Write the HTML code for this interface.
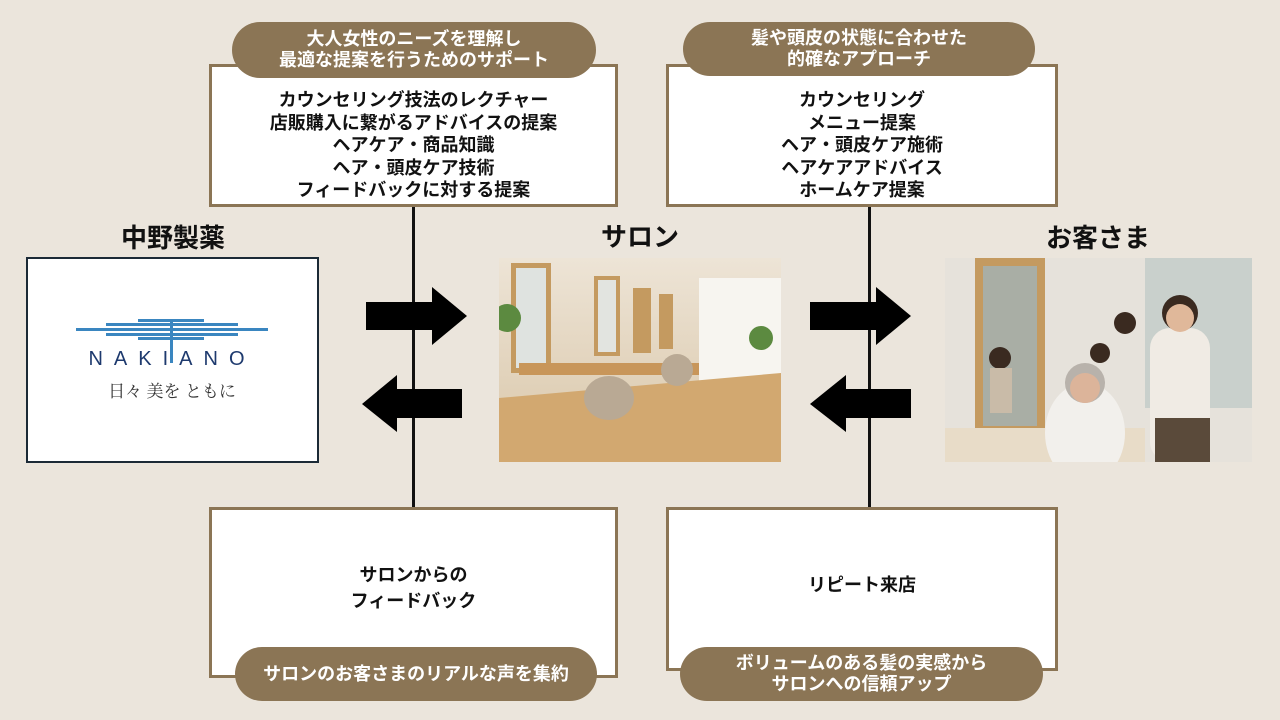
<!DOCTYPE html>
<html><head><meta charset="utf-8"><style>
*{margin:0;padding:0;box-sizing:border-box}
body{width:1280px;height:720px;background:#ebe5dc;position:relative;overflow:hidden;font-family:"Liberation Sans","Noto Sans CJK JP",sans-serif;color:#111}
.box{position:absolute;background:#fff;border:3px solid #8b7555;display:flex;flex-direction:column;align-items:center;justify-content:center;font-size:18px;font-weight:bold;line-height:22.5px;text-align:center}
.pill{position:absolute;background:#8b7555;color:#fff;border-radius:28px;font-size:18px;font-weight:bold;line-height:21px;text-align:center;display:flex;flex-direction:column;justify-content:center;align-items:center}
.vl{position:absolute;width:3px;background:#111}
.t{position:absolute;font-size:26px;font-weight:bold;transform:translateX(-50%)}
svg{position:absolute}
</style></head><body>
<div class="vl" style="left:412px;top:205px;height:303px"></div>
<div class="vl" style="left:868px;top:205px;height:303px"></div>

<div class="box" style="left:209px;top:64px;width:409px;height:143px;padding-top:20px">カウンセリング技法のレクチャー<br>店販購入に繋がるアドバイスの提案<br>ヘアケア・商品知識<br>ヘア・頭皮ケア技術<br>フィードバックに対する提案</div>
<div class="pill" style="left:232px;top:22px;width:364px;height:56px">大人女性のニーズを理解し<br>最適な提案を行うためのサポート</div>

<div class="box" style="left:666px;top:64px;width:392px;height:143px;padding-top:20px">カウンセリング<br>メニュー提案<br>ヘア・頭皮ケア施術<br>ヘアケアアドバイス<br>ホームケア提案</div>
<div class="pill" style="left:683px;top:22px;width:352px;height:54px">髪や頭皮の状態に合わせた<br>的確なアプローチ</div>

<div class="box" style="left:209px;top:507px;width:409px;height:171px;padding-bottom:10px;line-height:26px">サロンからの<br>フィードバック</div>
<div class="pill" style="left:235px;top:647px;width:362px;height:54px">サロンのお客さまのリアルな声を集約</div>

<div class="box" style="left:666px;top:507px;width:392px;height:164px;padding-bottom:8px">リピート来店</div>
<div class="pill" style="left:680px;top:647px;width:363px;height:54px">ボリュームのある髪の実感から<br>サロンへの信頼アップ</div>

<div class="t" style="left:173px;top:218px">中野製薬</div>
<div class="t" style="left:640px;top:217px">サロン</div>
<div class="t" style="left:1098px;top:218px">お客さま</div>

<svg width="1280" height="720" style="left:0;top:0">
<polygon points="366,302 432,302 432,287 467,316 432,345 432,330 366,330" fill="#000"/>
<polygon points="462,389 397,389 397,375 362,404 397,432 397,418 462,418" fill="#000"/>
<polygon points="810,302 876,302 876,287 911,316 876,345 876,330 810,330" fill="#000"/>
<polygon points="911,389 846,389 846,375 810,404 846,432 846,418 911,418" fill="#000"/>
</svg>

<div style="position:absolute;left:26px;top:257px;width:293px;height:206px;background:#fff;border:2px solid #1b2a36"></div>
<svg width="293" height="206" style="left:26px;top:257px">
<g fill="#3a86c0">
<rect x="50" y="71" width="192" height="3"/>
<rect x="80" y="66" width="132" height="3"/><rect x="80" y="76" width="132" height="3"/>
<rect x="112" y="62" width="66" height="3"/><rect x="112" y="80" width="66" height="3"/>
<rect x="144" y="62" width="3" height="44"/>
</g>
<text x="146" y="108" text-anchor="middle" font-family="Liberation Sans" font-size="20" letter-spacing="11" fill="#1e3a6e">NAKIANO</text>
<text x="146" y="140" text-anchor="middle" font-family="Noto Serif CJK SC,serif" font-size="17" fill="#333">日々 美を ともに</text>
</svg>

<svg width="282" height="204" style="left:499px;top:258px">
<defs><linearGradient id="w" x1="0" y1="0" x2="0" y2="1"><stop offset="0" stop-color="#ede4d6"/><stop offset="1" stop-color="#d9c6a8"/></linearGradient></defs>
<rect width="282" height="204" fill="url(#w)"/>
<rect x="200" y="20" width="82" height="110" fill="#f7f5f0"/>
<polygon points="0,140 282,115 282,204 0,204" fill="#d2a870"/>
<rect x="12" y="5" width="40" height="110" fill="#c49a60"/><rect x="17" y="10" width="30" height="100" fill="#dfe3e0"/>
<rect x="95" y="18" width="26" height="80" fill="#c49a60"/><rect x="99" y="22" width="18" height="72" fill="#e2e4e0"/>
<rect x="134" y="30" width="18" height="65" fill="#c49a60"/><rect x="160" y="36" width="14" height="55" fill="#c49a60"/>
<rect x="20" y="105" width="180" height="12" fill="#c8965a"/>
<ellipse cx="110" cy="140" rx="25" ry="22" fill="#b9a994"/><ellipse cx="178" cy="112" rx="16" ry="16" fill="#b9a994"/>
<circle cx="262" cy="80" r="12" fill="#5c8a40"/><circle cx="8" cy="60" r="14" fill="#5c8a40"/>
</svg>

<svg width="307" height="204" style="left:945px;top:258px">
<rect width="307" height="204" fill="#e6e2db"/>
<rect x="200" y="0" width="107" height="150" fill="#c9d0cc"/>
<rect x="30" y="0" width="70" height="175" fill="#c49a60"/><rect x="38" y="8" width="54" height="160" fill="#a9aea5"/>
<rect x="0" y="170" width="200" height="34" fill="#e8dcc8"/>
<ellipse cx="140" cy="175" rx="40" ry="50" fill="#f2f0ec"/>
<circle cx="140" cy="125" r="20" fill="#b8b2ab"/><circle cx="140" cy="130" r="15" fill="#dcb49a"/>
<rect x="205" y="70" width="60" height="134" rx="20" fill="#f0ebe4"/>
<circle cx="235" cy="55" r="18" fill="#3a2a20"/><circle cx="235" cy="60" r="14" fill="#e0b89a"/>
<rect x="210" y="160" width="55" height="44" fill="#5a4a3a"/>
<circle cx="180" cy="65" r="11" fill="#3a2a20"/><circle cx="155" cy="95" r="10" fill="#3a2a20"/>
<circle cx="55" cy="100" r="11" fill="#3a2a20"/><rect x="45" y="110" width="22" height="45" fill="#c9bba8"/>
</svg>
</body></html>
